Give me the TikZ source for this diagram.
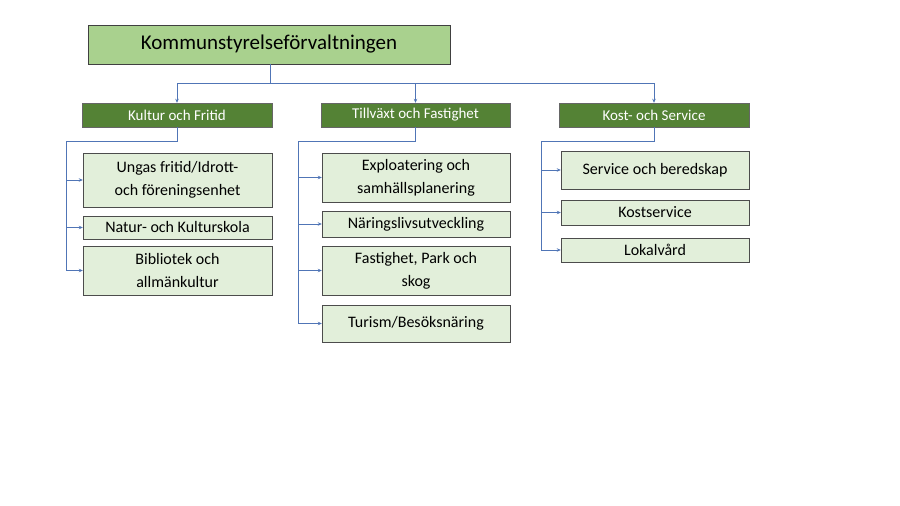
\documentclass[tikz,border=0pt]{standalone}
\usepackage{fontspec}
\setmainfont{Carlito}
\usetikzlibrary{arrows.meta}
\definecolor{topg}{HTML}{A9D18E}
\definecolor{darkg}{HTML}{548235}
\definecolor{lightg}{HTML}{E2EFDA}
\definecolor{conn}{HTML}{4472C4}
\begin{document}
\begin{tikzpicture}[x=1pt,y=-1pt,
  topbox/.style={draw=black!75,fill=topg,line width=0.8pt,font=\fontsize{21}{24}\selectfont,inner sep=0},
  hbox/.style={draw=black!60,fill=darkg,text=white,font=\fontsize{15}{17}\selectfont,inner sep=0},
  cbox/.style={draw=black!70,fill=lightg,font=\fontsize{16}{23}\selectfont,align=center,inner sep=0},
  ln/.style={draw=conn!80!gray,line width=0.7pt},
  ar/.style={ln,-{Stealth[length=4pt,width=3.5pt]}}]
\useasboundingbox (0,0) rectangle (900,506);
\newcommand{\bx}[6]{\node[#1,minimum width=#4-#3,minimum height=#6-#5] (#2) at ({(#3+#4)/2},{(#5+#6)/2})}
\bx{topbox}{top}{88}{450}{25}{64} {Kommunstyrelseförvaltningen};
\bx{hbox}{h1}{82}{272}{103}{127} {Kultur och Fritid};
\bx{hbox}{h2}{321}{510}{103}{127} {Tillväxt och Fastighet};
\bx{hbox}{h3}{559}{749}{103}{127} {Kost- och Service};
\bx{cbox}{a1}{83}{272}{153}{207} {Ungas fritid/Idrott-\\och föreningsenhet};
\bx{cbox}{a2}{83}{272}{216}{239} {Natur- och Kulturskola};
\bx{cbox}{a3}{83}{272}{246}{295} {Bibliotek och\\allmänkultur};
\bx{cbox}{b1}{322}{510}{153}{202} {Exploatering och\\samhällsplanering};
\bx{cbox}{b2}{322}{510}{211}{237} {Näringslivsutveckling};
\bx{cbox}{b3}{322}{510}{246}{295} {Fastighet, Park och\\skog};
\bx{cbox}{b4}{322}{510}{305}{342} {Turism/Besöksnäring};
\bx{cbox}{c1}{561}{749}{151}{189} {Service och beredskap};
\bx{cbox}{c2}{561}{749}{200}{225} {Kostservice};
\bx{cbox}{c3}{561}{749}{238}{262} {Lokalvård};
\coordinate (j) at (270,83);
\draw[ln] (top.south -| j) -- (j);
\draw[ar] (j) -| (h1.north);
\draw[ar] (j) -| (h2.north);
\draw[ar] (j) -| (h3.north);
\coordinate (s1) at (66,141);
\coordinate (s2) at (298,141);
\coordinate (s3) at (541,141);
\draw[ln] (h1.south) |- (s1);
\draw[ln] (h2.south) |- (s2);
\draw[ln] (h3.south) |- (s3);
\foreach \n in {a1,a2,a3} \draw[ar] (s1) |- (\n.west);
\foreach \n in {b1,b2,b3,b4} \draw[ar] (s2) |- (\n.west);
\foreach \n in {c1,c2,c3} \draw[ar] (s3) |- (\n.west);
\end{tikzpicture}
\end{document}
